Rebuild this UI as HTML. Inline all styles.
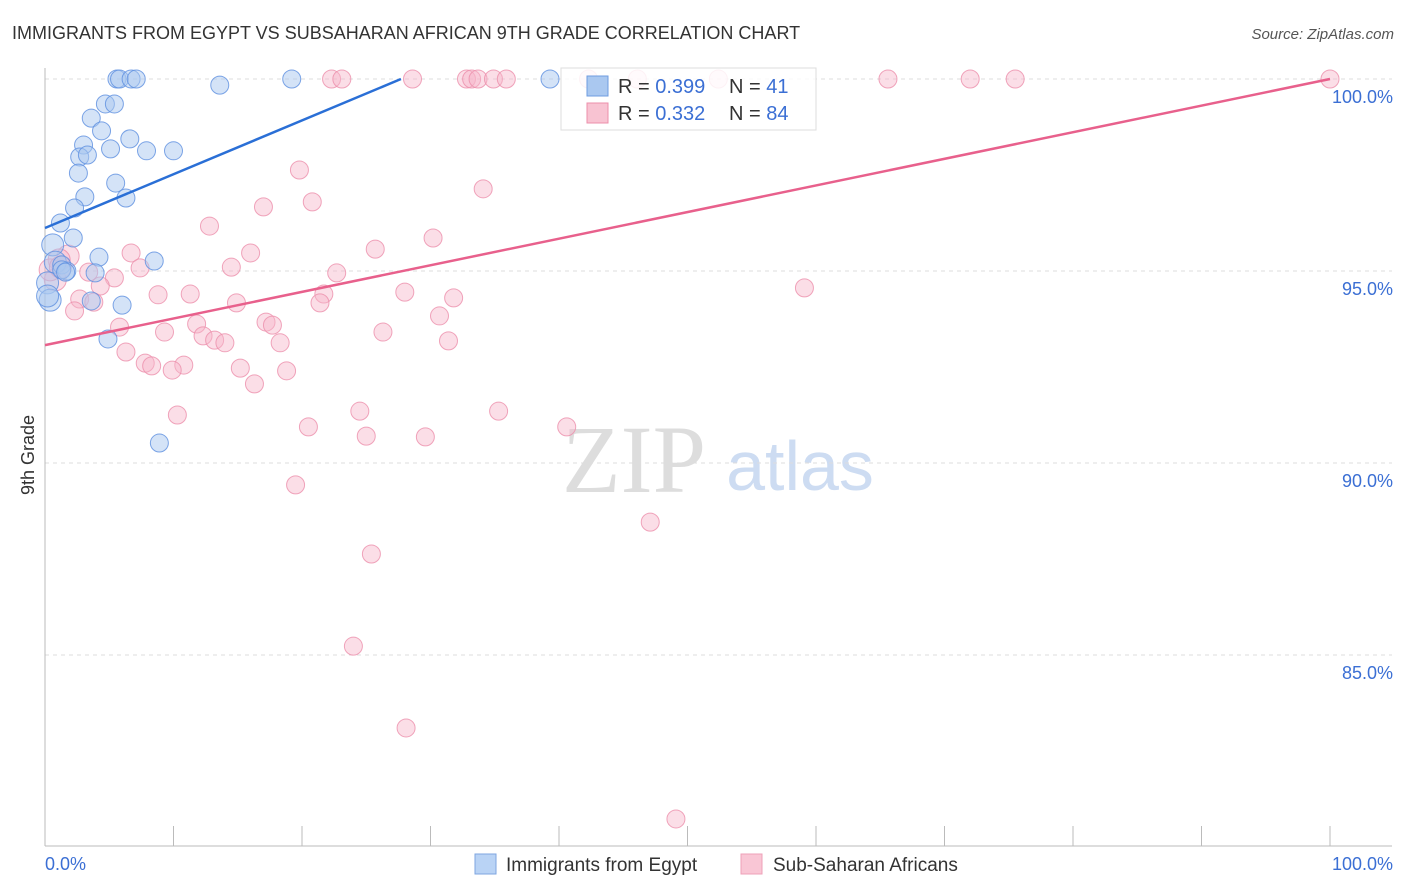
<!DOCTYPE html>
<html><head><meta charset="utf-8"><style>
body{margin:0;background:#fff;font-family:"Liberation Sans",sans-serif;}
svg{display:block}
</style></head><body>
<svg id="chart" width="1406" height="892">
<text x="12" y="39" font-size="18" fill="#333">IMMIGRANTS FROM EGYPT VS SUBSAHARAN AFRICAN 9TH GRADE CORRELATION CHART</text>
<text x="1394" y="39" font-size="15" fill="#555" font-style="italic" text-anchor="end">Source: ZipAtlas.com</text>
<g>
<text x="634" y="492" font-size="96" font-family="Liberation Serif,serif" fill="#ddd" text-anchor="middle">ZIP</text>
<text x="800" y="490" font-size="70" fill="#cddcf2" text-anchor="middle">atlas</text>
</g>
<g id="grid"></g>
<g id="axes"></g>
<g id="marks"></g>
<text x="34" y="455" font-size="18" fill="#333" text-anchor="middle" transform="rotate(-90 34 455)">9th Grade</text>
<g>
<rect x="561" y="68" width="255" height="62" fill="#fff" fill-opacity="0.85" stroke="#ddd"/>
<rect x="587" y="76" width="21" height="20" fill="#aac8f0" stroke="#6f9ce0"/>
<rect x="587" y="103" width="21" height="20" fill="#f8c3d2" stroke="#ec8fab"/>
<text x="618" y="93" font-size="20" fill="#333">R = <tspan fill="#3b6fd4">0.399</tspan></text>
<text x="729" y="93" font-size="20" fill="#333">N = <tspan fill="#3b6fd4"> 41</tspan></text>
<text x="618" y="120" font-size="20" fill="#333">R = <tspan fill="#3b6fd4">0.332</tspan></text>
<text x="729" y="120" font-size="20" fill="#333">N = <tspan fill="#3b6fd4">84</tspan></text>
</g>
<g>
<rect x="475" y="854" width="21" height="20" fill="#b9d3f5" stroke="#7ea6e0"/>
<text x="506" y="871" font-size="19" fill="#333">Immigrants from Egypt</text>
<rect x="741" y="854" width="21" height="20" fill="#f9c6d5" stroke="#eea0b8"/>
<text x="773" y="871" font-size="19" fill="#333">Sub-Saharan Africans</text>
</g>
</svg>
<script>
const yTicks=[100,95,90,85];
const yTickLabels=["100.0%","95.0%","90.0%","85.0%"];
const xTickLabels=["0.0%","100.0%"];
const blueX=[5.6,5.8,6.7,7.1,19.2,39.3,13.6,4.7,5.4,3.6,4.4,6.6,3.0,5.1,7.9,10.0,2.7,3.3,2.6,5.5,3.1,6.3,2.3,1.2,2.2,0.6,4.2,8.5,0.8,1.3,1.7,3.9,0.2,0.4,3.6,6.0,4.9,8.9,1.3,0.2,1.6];
const blueY=[100,100,100,100,100,100,99.84,99.35,99.35,98.98,98.65,98.44,98.28,98.18,98.13,98.13,97.97,98.02,97.55,97.29,96.93,96.9,96.64,96.25,95.86,95.68,95.36,95.26,95.23,95.16,95.0,94.95,94.69,94.24,94.22,94.11,93.23,90.52,95.03,94.35,94.97];
const pinkX=[22.3,23.1,28.6,32.8,33.2,33.7,34.9,35.9,42.3,46.1,52.4,65.6,72.0,75.5,100,19.8,20.8,34.1,17.0,12.8,25.7,30.2,6.7,16.0,1.8,1.1,7.4,14.5,22.7,3.4,5.4,4.3,28.0,59.1,8.8,11.3,2.7,21.7,14.9,21.4,31.8,3.8,2.3,30.7,5.8,11.8,17.2,17.7,26.3,9.3,12.3,13.2,14.0,18.3,31.4,6.3,7.8,8.3,10.8,9.9,15.2,18.8,16.3,10.3,24.5,35.3,20.5,40.6,25.0,29.6,19.5,47.1,25.4,24.0,28.1,49.1,0.8,0.4,1.2];
const pinkY=[100,100,100,100,100,100,100,100,100,100,100,100,100,100,100,97.63,96.8,97.14,96.67,96.17,95.57,95.86,95.47,95.47,95.39,95.29,95.08,95.10,94.95,94.97,94.82,94.61,94.45,94.56,94.38,94.40,94.27,94.40,94.17,94.17,94.30,94.19,93.96,93.83,93.54,93.62,93.67,93.59,93.41,93.41,93.31,93.20,93.13,93.13,93.18,92.89,92.60,92.53,92.55,92.42,92.47,92.40,92.06,91.25,91.35,91.35,90.94,90.94,90.70,90.68,89.43,88.46,87.63,85.23,83.10,80.73,94.77,95.03,95.10];
const blueTrend=[[0,96.12],[27.7,100]];
const pinkTrend=[[0,93.07],[100,100]];
const NS="http://www.w3.org/2000/svg";
const X=v=>45+v*12.85, Y=v=>79+(100-v)*38.4;
function mk(tag,attrs,parent){const e=document.createElementNS(NS,tag);for(const k in attrs)e.setAttribute(k,attrs[k]);document.getElementById(parent).appendChild(e);return e;}
yTicks.forEach((t,i)=>{
 const l=mk('line',{x1:45,x2:1392,y1:Y(t),y2:Y(t),stroke:'#ddd','stroke-dasharray':'4,4'},'grid');
 
 
 const tx=mk('text',{x:1393,y:Y(t)+24,'font-size':18,fill:'#3b6fd4','text-anchor':'end'},'axes');
 tx.textContent=yTickLabels[i];
 
 
});
const la=mk('line',{x1:45,x2:45,y1:68,y2:846,stroke:'#bbb'},'axes');


const ba=mk('line',{x1:45,x2:1392,y1:846,y2:846,stroke:'#bbb'},'axes');


for(let i=0;i<=10;i++){
 const t=mk('line',{x1:X(i*10),x2:X(i*10),y1:826,y2:846,stroke:'#bbb'},'axes');
 
 
}
[[0,'start',45],[1,'end',1393]].forEach(([i,a,x])=>{
 const t=mk('text',{x:x,y:870,'font-size':18,fill:'#3b6fd4','text-anchor':a},'axes');
 t.textContent=xTickLabels[i];
 
 
});
pinkX.forEach((v,i)=>{
 const c=mk('circle',{cx:X(v),cy:Y(pinkY[i]),r:(v<2?11:9),fill:'#f7b6c9','fill-opacity':0.45,stroke:'#ec8fab','stroke-opacity':0.8},'marks');
 
 
});
blueX.forEach((v,i)=>{
 const c=mk('circle',{cx:X(v),cy:Y(blueY[i]),r:(v<1?11:9),fill:'#a9c7f0','fill-opacity':0.5,stroke:'#5d8ee0','stroke-opacity':0.8},'marks');
 
 
});
const bl=mk('line',{x1:X(blueTrend[0][0]),y1:Y(blueTrend[0][1]),x2:X(blueTrend[1][0]),y2:Y(blueTrend[1][1]),stroke:'#2a6fd6','stroke-width':2.5},'marks');


const pl=mk('line',{x1:X(pinkTrend[0][0]),y1:Y(pinkTrend[0][1]),x2:X(pinkTrend[1][0]),y2:Y(pinkTrend[1][1]),stroke:'#e8608c','stroke-width':2.5},'marks');


</script>
</body></html>
